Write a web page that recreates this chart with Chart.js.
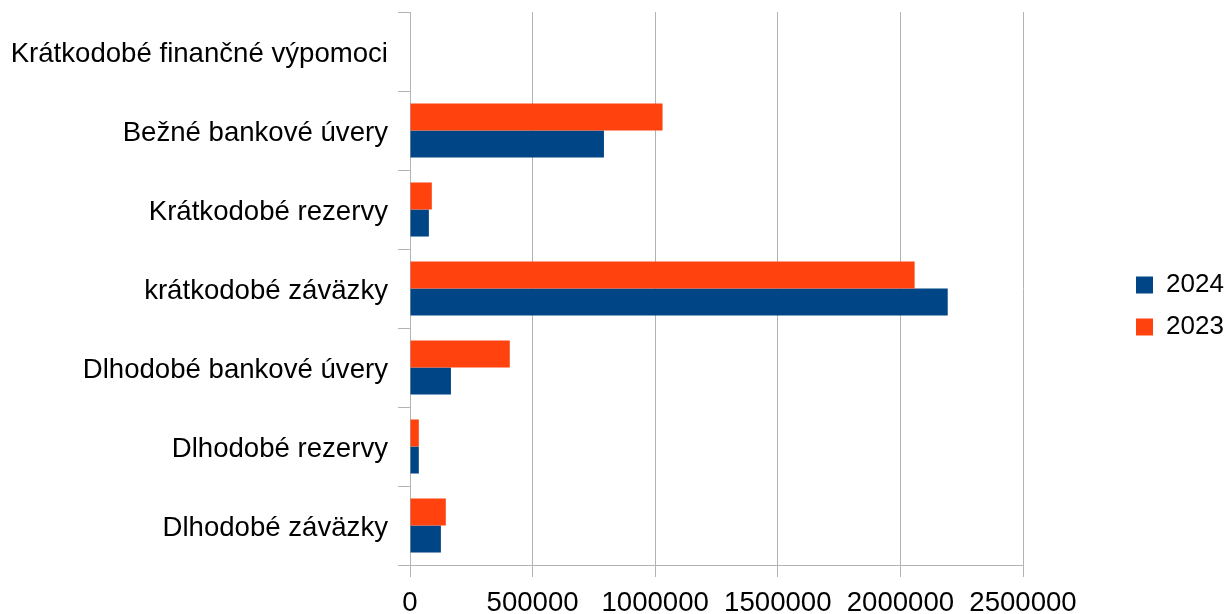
<!DOCTYPE html>
<html>
<head>
<meta charset="utf-8">
<script src="https://cdn.jsdelivr.net/npm/chart.js@4.4.1/dist/chart.umd.min.js"></script>
<style>
  html, body { margin: 0; padding: 0; background: #ffffff; }
  #wrap { width: 1226px; height: 614px; position: relative; }
</style>
</head>
<body>
<div id="wrap"><canvas id="c" width="1226" height="614"></canvas></div>
<script>
const categories = [
  'Krátkodobé finančné výpomoci',
  'Bežné bankové úvery',
  'Krátkodobé rezervy',
  'krátkodobé záväzky',
  'Dlhodobé bankové úvery',
  'Dlhodobé rezervy',
  'Dlhodobé záväzky'
];
const values2023 = [0, 1030000, 89000, 2058000, 407000, 36000, 146000];
const values2024 = [0, 791000, 77000, 2193000, 167000, 36000, 126000];
const xTicks = [0, 500000, 1000000, 1500000, 2000000, 2500000];

const FONT = "'Liberation Sans', Arial, sans-serif";

const legendPlacer = {
  id: 'legendPlacer',
  afterLayout(chart) {
    const l = chart.legend;
    if (!l) return;
    const dx = 1120 - l.left;
    l.left += dx; l.right += dx;
    l.top -= 7; l.bottom -= 7;
  }
};

new Chart(document.getElementById('c'), {
  type: 'bar',
  data: {
    labels: categories,
    datasets: [
      { label: '2023', data: values2023, backgroundColor: '#ff420e', borderWidth: 0 },
      { label: '2024', data: values2024, backgroundColor: '#004586', borderWidth: 0 }
    ]
  },
  plugins: [legendPlacer],
  options: {
    indexAxis: 'y',
    responsive: false,
    animation: false,
    devicePixelRatio: 1,
    datasets: { bar: { barPercentage: 1.0, categoryPercentage: 0.684 } },
    layout: { padding: { top: 12, left: 0, right: 0, bottom: 0 } },
    plugins: {
      tooltip: { enabled: false },
      legend: {
        position: 'right',
        reverse: true,
        labels: {
          boxWidth: 17,
          boxHeight: 17,
          padding: 16,
          color: '#000000',
          font: { family: FONT, size: 26 }
        }
      }
    },
    scales: {
      x: {
        min: 0,
        max: 2500000,
        afterBuildTicks: (scale) => { scale.ticks = xTicks.map(v => ({ value: v })); },
        afterFit: (scale) => { scale.paddingRight = 203; scale.height = 49; },
        grid: { color: '#b3b3b3', lineWidth: 1, tickLength: 12, drawTicks: true },
        border: { color: '#b3b3b3' },
        ticks: {
          color: '#000000',
          padding: 10,
          maxRotation: 0,
          autoSkip: false,
          font: { family: FONT, size: 27.6 },
          callback: (v) => String(v)
        }
      },
      y: {
        afterFit: (scale) => { scale.width = 410; scale.paddingTop = 0; scale.paddingBottom = 0; },
        grid: { drawOnChartArea: false, color: '#b3b3b3', tickLength: 12, drawTicks: true },
        border: { color: '#b3b3b3' },
        ticks: {
          color: '#000000',
          padding: 10,
          labelOffset: 3,
          autoSkip: false,
          font: { family: FONT, size: 27.6 }
        }
      }
    }
  }
});
</script>
</body>
</html>
